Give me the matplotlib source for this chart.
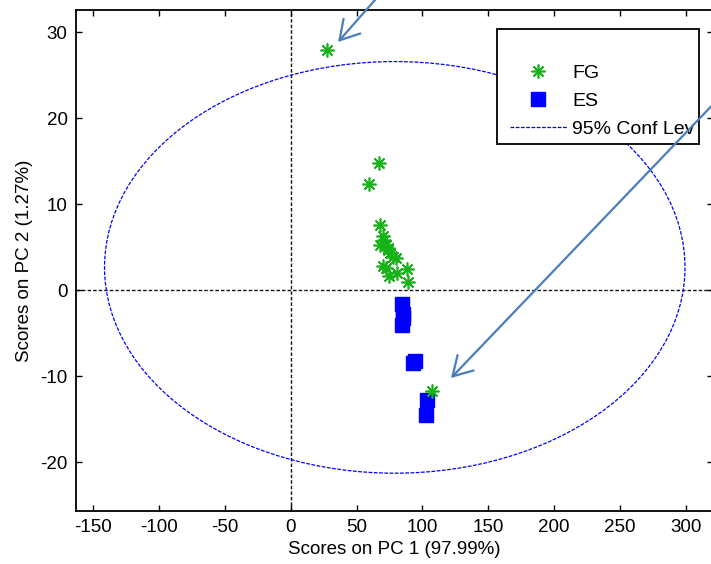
import matplotlib
matplotlib.use("Agg")
import matplotlib.pyplot as plt
from matplotlib.patches import Ellipse, Rectangle
from matplotlib.lines import Line2D
from matplotlib.transforms import Bbox, TransformedBbox

plt.rcParams['font.family'] = ['Liberation Sans', 'DejaVu Sans']
plt.rcParams['axes.unicode_minus'] = False

# ---- data ----
fg_x = [27.5, 67.0, 59.4, 67.8, 70.3, 67.8, 72.1, 74.1, 75.3, 77.4, 79.9,
        69.7, 72.1, 74.8, 80.4, 88.5, 89.2, 71.0, 73.5, 107.0]
fg_y = [28.0, 14.8, 12.4, 7.6, 6.3, 5.2, 5.3, 4.65, 4.3, 3.9, 3.7,
        2.8, 2.6, 1.7, 2.0, 2.5, 1.0, 5.8, 4.9, -11.7]
es_x = [84.7, 85.4, 84.7, 85.0, 94.3, 93.2, 103.6, 102.4]
es_y = [-1.6, -2.8, -4.1, -3.2, -8.2, -8.5, -12.8, -14.5]

ell_center = (79.0, 2.65)
ell_width = 440.5
ell_height = 47.9
ell_angle = 0.0

xticks = [-150, -100, -50, 0, 50, 100, 150, 200, 250, 300]
yticks = [-20, -10, 0, 10, 20, 30]
xlim = (-162.9, 320.5)
ylim = (-25.7, 32.6)

green = '#17b217'
blue = '#0000ff'
arrow_col = '#4a7ebb'
fs = 13.5
fs_leg = 14

W, H = 711, 564
fig = plt.figure(figsize=(W / 100, H / 100), dpi=100)
ax = fig.add_axes([76 / W, (H - 511) / H, (713 - 76) / W, (511 - 10) / H])

ax.axhline(0, color='#111111', lw=1.0, ls=(0, (2.5, 1.5)), zorder=1)
ax.axvline(0, color='#111111', lw=1.0, ls=(0, (2.5, 1.5)), zorder=1)

ell = Ellipse(ell_center, ell_width, ell_height, angle=ell_angle, fill=False,
              edgecolor=blue, lw=0.9, ls=(0, (3, 1.2)), zorder=2)
ax.add_patch(ell)

h_fg, = ax.plot(fg_x, fg_y, ls='none', marker=(8, 2, 0), ms=10, mew=1.2,
                color=green, zorder=4)
h_es, = ax.plot(es_x, es_y, ls='none', marker='s', ms=10, mec=blue, mfc=blue,
                zorder=3)

ax.set_xlim(*xlim)
ax.set_ylim(*ylim)
ax.set_xticks(xticks)
ax.set_yticks(yticks)
ax.tick_params(direction='in', length=4, width=1, top=True, right=True,
               labelsize=fs, pad=6)
for s in ax.spines.values():
    s.set_linewidth(1.3)

ax.set_xlabel('Scores on PC 1 (97.99%)', fontsize=fs, labelpad=3)
ax.set_ylabel('Scores on PC 2 (1.27%)', fontsize=fs, labelpad=5)

# legend frame (fixed box like the MATLAB legend)
box = (497 / W, 1 - 144 / H, 699 / W, 1 - 29 / H)
frame = Rectangle((box[0], box[1]), box[2] - box[0], box[3] - box[1],
                  transform=fig.transFigure, facecolor='white',
                  edgecolor='black', lw=1.3, clip_on=False, zorder=4.5)
ax.add_patch(frame)

blank = Line2D([], [], ls='none')
h_ell = Line2D([], [], color=blue, lw=0.9, ls=(0, (3, 1.2)))
leg = ax.legend([blank, h_fg, h_es, h_ell], [' ', 'FG', 'ES', '95% Conf Lev'],
                loc='upper left', bbox_to_anchor=(502 / W, 1 - 28 / H),
                bbox_transform=fig.transFigure, borderaxespad=0,
                fontsize=fs_leg, numpoints=1, handlelength=2.95,
                handletextpad=0.26, borderpad=0.4, labelspacing=0.55,
                frameon=False)
leg.set_zorder(5)
clip = TransformedBbox(Bbox.from_extents(*box), fig.transFigure)
for t in leg.get_texts():
    t.set_clip_box(clip)
    t.set_clip_on(True)

arrow_kw = dict(arrowstyle='->,head_length=0.68,head_width=0.4',
                color=arrow_col, lw=1.6, mutation_scale=20, shrinkA=0, shrinkB=0)
ax.annotate('', xy=(338, H - 42), xycoords='figure pixels',
            xytext=(382, H + 8), textcoords='figure pixels',
            arrowprops=arrow_kw, annotation_clip=False, zorder=6)
ax.annotate('', xy=(451, H - 378), xycoords='figure pixels',
            xytext=(722, H - 95), textcoords='figure pixels',
            arrowprops=arrow_kw, annotation_clip=False, zorder=6)

fig.savefig('out.png', dpi=100)
